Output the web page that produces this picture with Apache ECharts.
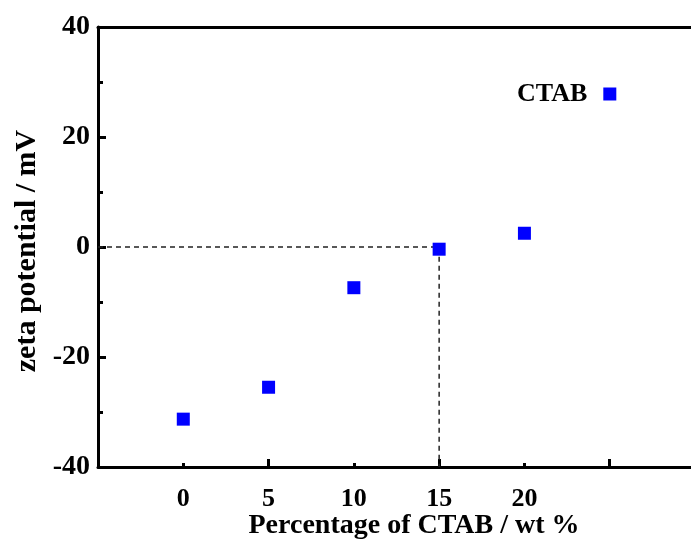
<!DOCTYPE html>
<html>
<head>
<meta charset="utf-8">
<script src="https://cdn.jsdelivr.net/npm/echarts@6/dist/echarts.min.js"></script>
<style>
html,body{margin:0;padding:0;background:#fff;overflow:hidden;}
#chart{width:691px;height:544px;}
</style>
</head>
<body>
<div id="chart"></div>
<script>
const ctabPercent = [0, 5, 10, 15, 20];
const zetaPotential = [-31.3, -25.5, -7.4, -0.4, 2.5];
const guideX = [-5, 15, 15];
const guideY = [0, 0, -40];
const xLabelValues = [0, 5, 10, 15, 20];
const seriesName = 'CTAB';
const xTitle = 'Percentage of CTAB / wt %';
const yTitle = 'zeta potential / mV';

const FONT = "'Liberation Serif', 'Times New Roman', serif";
const chart = echarts.init(document.getElementById('chart'), null, {renderer: 'canvas'});

const scatterData = ctabPercent.map((x, i) => [x, zetaPotential[i]]);
const guideData = guideX.map((x, i) => [x, guideY[i]]);

chart.setOption({
  animation: false,
  backgroundColor: '#ffffff',
  grid: {left: 98, right: -4, top: 27, bottom: 77, containLabel: false, outerBoundsMode: 'none'},
  legend: {
    data: [seriesName],
    left: 512, top: 76,
    align: 'right',
    icon: 'rect',
    itemWidth: 13, itemHeight: 13,
    textStyle: {fontFamily: FONT, fontWeight: 'bold', fontSize: 26, color: '#000', padding: [0, 11, 0, 0]}
  },
  xAxis: [
    {
      type: 'value', position: 'bottom', min: -5, max: 30, interval: 10,
      axisLine: {show: true, onZero: false, lineStyle: {color: '#000', width: 3}},
      axisTick: {show: true, inside: true, length: 8, lineStyle: {color: '#000', width: 3}},
      minorTick: {show: true, splitNumber: 2, length: 4, lineStyle: {color: '#000', width: 3}},
      axisLabel: {show: false},
      splitLine: {show: false},
      name: xTitle, nameLocation: 'middle', nameGap: 45,
      nameTextStyle: {fontFamily: FONT, fontWeight: 'bold', fontSize: 28, color: '#000', padding: [0, 0, 0, 35]}
    },
    {
      type: 'value', position: 'bottom', min: -5, max: 30, interval: 5,
      axisLine: {show: false}, axisTick: {show: false}, splitLine: {show: false},
      axisLabel: {
        show: true, margin: 19,
        fontFamily: FONT, fontWeight: 'bold', fontSize: 26, color: '#000',
        formatter: v => (xLabelValues.indexOf(v) >= 0 ? String(v) : '')
      }
    },
    {
      type: 'value', position: 'top', min: -5, max: 30, interval: 5,
      axisLine: {show: true, onZero: false, lineStyle: {color: '#000', width: 3}},
      axisTick: {show: false}, axisLabel: {show: false}, splitLine: {show: false}
    }
  ],
  yAxis: [
    {
      type: 'value', position: 'left', min: -40, max: 40, interval: 20,
      axisLine: {show: true, onZero: false, lineStyle: {color: '#000', width: 3}},
      axisTick: {show: true, inside: true, length: 8, lineStyle: {color: '#000', width: 3}},
      minorTick: {show: true, splitNumber: 2, length: 5, lineStyle: {color: '#000', width: 3}},
      axisLabel: {show: true, margin: 8, fontFamily: FONT, fontWeight: 'bold', fontSize: 28, color: '#000'},
      splitLine: {show: false},
      name: yTitle, nameLocation: 'middle', nameGap: 48, nameRotate: 90,
      nameTextStyle: {fontFamily: FONT, fontWeight: 'bold', fontSize: 30, color: '#000', padding: [0, 8, -5, 0]}
    }
  ],
  series: [
    {
      type: 'line', xAxisIndex: 0, yAxisIndex: 0,
      data: guideData, symbol: 'none', silent: true, z: 1,
      lineStyle: {color: '#222', width: 1.5, type: [5, 4]}
    },
    {
      name: seriesName, type: 'scatter', xAxisIndex: 0, yAxisIndex: 0,
      data: scatterData, symbol: 'rect', symbolSize: 13, z: 3,
      itemStyle: {color: '#0000ff', opacity: 1}
    }
  ]
});
</script>
</body>
</html>
